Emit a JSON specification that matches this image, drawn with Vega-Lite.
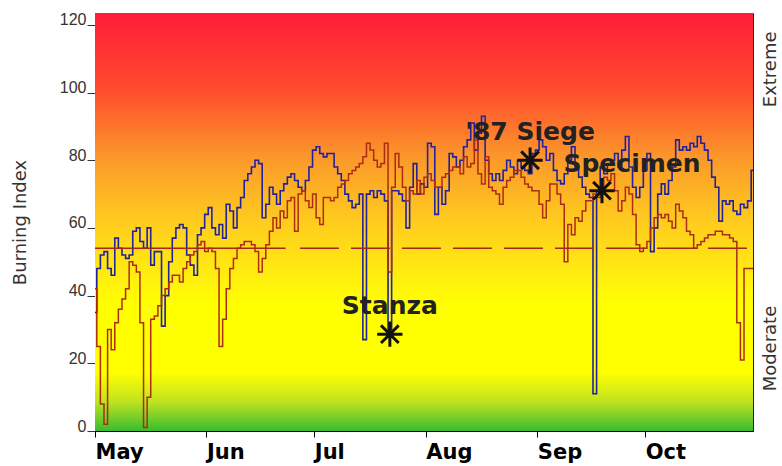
{
  "$schema": "https://vega.github.io/schema/vega-lite/v6.json",
  "width": 658,
  "height": 418,
  "autosize": "none",
  "padding": {"left": 95, "top": 13, "right": 29, "bottom": 35},
  "background": "white",
  "config": {
    "view": {"stroke": "#222", "strokeWidth": 1},
    "axis": {"grid": false}
  },
  "layer": [
    {
      "data": {"values": [{"band": "background"}]},
      "mark": {
        "type": "rect",
        "color": {
          "gradient": "linear",
          "x1": 0, "y1": 0, "x2": 0, "y2": 1,
          "stops": [
            {"offset": 0, "color": "#ff1c38"},
            {"offset": 0.18, "color": "#ff4a2e"},
            {"offset": 0.35, "color": "#fb9a2a"},
            {"offset": 0.5, "color": "#ffcc1e"},
            {"offset": 0.63, "color": "#ffee10"},
            {"offset": 0.7, "color": "#ffff00"},
            {"offset": 0.86, "color": "#ffff00"},
            {"offset": 0.93, "color": "#bfe320"},
            {"offset": 1, "color": "#38bc30"}
          ]
        }
      },
      "encoding": {}
    },
    {
      "data": {"values": [
        {"date":"2007-05-01","blue":35,"red":42},{"date":"2007-05-02","blue":48,"red":25},{"date":"2007-05-03","blue":52,"red":8},{"date":"2007-05-04","blue":53,"red":2},{"date":"2007-05-05","blue":48,"red":30},{"date":"2007-05-06","blue":46,"red":24},{"date":"2007-05-07","blue":57,"red":32},{"date":"2007-05-08","blue":54,"red":36},{"date":"2007-05-09","blue":52,"red":39},{"date":"2007-05-10","blue":51,"red":42},
        {"date":"2007-05-11","blue":52,"red":50},{"date":"2007-05-12","blue":59,"red":49},{"date":"2007-05-13","blue":60,"red":47},{"date":"2007-05-14","blue":56,"red":32},{"date":"2007-05-15","blue":54,"red":1},{"date":"2007-05-16","blue":60,"red":10},{"date":"2007-05-17","blue":49,"red":33},{"date":"2007-05-18","blue":53,"red":34},{"date":"2007-05-19","blue":53,"red":37},{"date":"2007-05-20","blue":31,"red":40},
        {"date":"2007-05-21","blue":40,"red":42},{"date":"2007-05-22","blue":50,"red":44},{"date":"2007-05-23","blue":57,"red":46},{"date":"2007-05-24","blue":60,"red":46},{"date":"2007-05-25","blue":61,"red":44},{"date":"2007-05-26","blue":60,"red":48},{"date":"2007-05-27","blue":52,"red":50},{"date":"2007-05-28","blue":49,"red":52},{"date":"2007-05-29","blue":46,"red":53},{"date":"2007-05-30","blue":58,"red":55},
        {"date":"2007-05-31","blue":60,"red":56},{"date":"2007-06-01","blue":64,"red":53},{"date":"2007-06-02","blue":66,"red":54},{"date":"2007-06-03","blue":60,"red":53},{"date":"2007-06-04","blue":58,"red":48},{"date":"2007-06-05","blue":61,"red":25},{"date":"2007-06-06","blue":57,"red":33},{"date":"2007-06-07","blue":67,"red":42},{"date":"2007-06-08","blue":65,"red":48},{"date":"2007-06-09","blue":60,"red":51},
        {"date":"2007-06-10","blue":66,"red":54},{"date":"2007-06-11","blue":69,"red":55},{"date":"2007-06-12","blue":74,"red":56},{"date":"2007-06-13","blue":76,"red":56},{"date":"2007-06-14","blue":78,"red":55},{"date":"2007-06-15","blue":80,"red":53},{"date":"2007-06-16","blue":79,"red":47},{"date":"2007-06-17","blue":63,"red":51},{"date":"2007-06-18","blue":67,"red":55},{"date":"2007-06-19","blue":72,"red":59},
        {"date":"2007-06-20","blue":70,"red":63},{"date":"2007-06-21","blue":67,"red":60},{"date":"2007-06-22","blue":71,"red":65},{"date":"2007-06-23","blue":73,"red":63},{"date":"2007-06-24","blue":75,"red":68},{"date":"2007-06-25","blue":76,"red":69},{"date":"2007-06-26","blue":74,"red":59},{"date":"2007-06-27","blue":72,"red":70},{"date":"2007-06-28","blue":71,"red":71},{"date":"2007-06-29","blue":74,"red":68},
        {"date":"2007-06-30","blue":78,"red":66},{"date":"2007-07-01","blue":83,"red":70},{"date":"2007-07-02","blue":84,"red":63},{"date":"2007-07-03","blue":82,"red":61},{"date":"2007-07-04","blue":81,"red":69},{"date":"2007-07-05","blue":82,"red":69},{"date":"2007-07-06","blue":82,"red":68},{"date":"2007-07-07","blue":78,"red":69},{"date":"2007-07-08","blue":76,"red":72},{"date":"2007-07-09","blue":74,"red":73},
        {"date":"2007-07-10","blue":70,"red":74},{"date":"2007-07-11","blue":68,"red":76},{"date":"2007-07-12","blue":66,"red":77},{"date":"2007-07-13","blue":67,"red":78},{"date":"2007-07-14","blue":70,"red":79},{"date":"2007-07-15","blue":27,"red":81},{"date":"2007-07-16","blue":70,"red":85},{"date":"2007-07-17","blue":71,"red":83},{"date":"2007-07-18","blue":69,"red":80},{"date":"2007-07-19","blue":71,"red":78},
        {"date":"2007-07-20","blue":70,"red":79},{"date":"2007-07-21","blue":68,"red":85},{"date":"2007-07-22","blue":30,"red":47},{"date":"2007-07-23","blue":71,"red":72},{"date":"2007-07-24","blue":71,"red":82},{"date":"2007-07-25","blue":70,"red":78},{"date":"2007-07-26","blue":68,"red":72},{"date":"2007-07-27","blue":60,"red":68},{"date":"2007-07-28","blue":72,"red":71},{"date":"2007-07-29","blue":79,"red":70},
        {"date":"2007-07-30","blue":70,"red":74},{"date":"2007-07-31","blue":73,"red":70},{"date":"2007-08-01","blue":72,"red":75},{"date":"2007-08-02","blue":85,"red":76},{"date":"2007-08-03","blue":84,"red":74},{"date":"2007-08-04","blue":64,"red":72},{"date":"2007-08-05","blue":72,"red":72},{"date":"2007-08-06","blue":67,"red":75},{"date":"2007-08-07","blue":71,"red":76},{"date":"2007-08-08","blue":82,"red":77},
        {"date":"2007-08-09","blue":81,"red":78},{"date":"2007-08-10","blue":78,"red":78},{"date":"2007-08-11","blue":80,"red":76},{"date":"2007-08-12","blue":84,"red":81},{"date":"2007-08-13","blue":86,"red":78},{"date":"2007-08-14","blue":91,"red":79},{"date":"2007-08-15","blue":83,"red":86},{"date":"2007-08-16","blue":88,"red":76},{"date":"2007-08-17","blue":93,"red":73},{"date":"2007-08-18","blue":80,"red":81},
        {"date":"2007-08-19","blue":76,"red":72},{"date":"2007-08-20","blue":74,"red":71},{"date":"2007-08-21","blue":76,"red":70},{"date":"2007-08-22","blue":74,"red":67},{"date":"2007-08-23","blue":77,"red":72},{"date":"2007-08-24","blue":80,"red":74},{"date":"2007-08-25","blue":78,"red":75},{"date":"2007-08-26","blue":76,"red":77},{"date":"2007-08-27","blue":80,"red":77},{"date":"2007-08-28","blue":78,"red":75},
        {"date":"2007-08-29","blue":77,"red":73},{"date":"2007-08-30","blue":76,"red":72},{"date":"2007-08-31","blue":82,"red":71},{"date":"2007-09-01","blue":83,"red":71},{"date":"2007-09-02","blue":86,"red":67},{"date":"2007-09-03","blue":84,"red":63},{"date":"2007-09-04","blue":80,"red":68},{"date":"2007-09-05","blue":82,"red":73},{"date":"2007-09-06","blue":77,"red":73},{"date":"2007-09-07","blue":74,"red":70},
        {"date":"2007-09-08","blue":73,"red":67},{"date":"2007-09-09","blue":76,"red":50},{"date":"2007-09-10","blue":80,"red":61},{"date":"2007-09-11","blue":84,"red":58},{"date":"2007-09-12","blue":78,"red":63},{"date":"2007-09-13","blue":75,"red":62},{"date":"2007-09-14","blue":72,"red":65},{"date":"2007-09-15","blue":70,"red":68},{"date":"2007-09-16","blue":69,"red":68},{"date":"2007-09-17","blue":11,"red":70},
        {"date":"2007-09-18","blue":71,"red":69},{"date":"2007-09-19","blue":78,"red":70},{"date":"2007-09-20","blue":76,"red":75},{"date":"2007-09-21","blue":79,"red":74},{"date":"2007-09-22","blue":80,"red":76},{"date":"2007-09-23","blue":82,"red":71},{"date":"2007-09-24","blue":78,"red":65},{"date":"2007-09-25","blue":83,"red":68},{"date":"2007-09-26","blue":87,"red":72},{"date":"2007-09-27","blue":78,"red":70},
        {"date":"2007-09-28","blue":72,"red":64},{"date":"2007-09-29","blue":69,"red":55},{"date":"2007-09-30","blue":72,"red":53},{"date":"2007-10-01","blue":77,"red":54},{"date":"2007-10-02","blue":82,"red":56},{"date":"2007-10-03","blue":53,"red":60},{"date":"2007-10-04","blue":60,"red":63},{"date":"2007-10-05","blue":70,"red":64},{"date":"2007-10-06","blue":73,"red":63},{"date":"2007-10-07","blue":70,"red":64},
        {"date":"2007-10-08","blue":74,"red":62},{"date":"2007-10-09","blue":78,"red":60},{"date":"2007-10-10","blue":86,"red":67},{"date":"2007-10-11","blue":83,"red":65},{"date":"2007-10-12","blue":84,"red":63},{"date":"2007-10-13","blue":83,"red":59},{"date":"2007-10-14","blue":85,"red":58},{"date":"2007-10-15","blue":84,"red":54},{"date":"2007-10-16","blue":87,"red":55},{"date":"2007-10-17","blue":85,"red":56},
        {"date":"2007-10-18","blue":83,"red":57},{"date":"2007-10-19","blue":80,"red":58},{"date":"2007-10-20","blue":75,"red":58},{"date":"2007-10-21","blue":72,"red":59},{"date":"2007-10-22","blue":62,"red":59},{"date":"2007-10-23","blue":68,"red":58},{"date":"2007-10-24","blue":67,"red":58},{"date":"2007-10-25","blue":68,"red":57},{"date":"2007-10-26","blue":65,"red":56},{"date":"2007-10-27","blue":64,"red":32},
        {"date":"2007-10-28","blue":67,"red":21},{"date":"2007-10-29","blue":66,"red":48},{"date":"2007-10-30","blue":68,"red":48},{"date":"2007-10-31","blue":77,"red":48}
      ]},
      "encoding": {
        "x": {
          "field": "date",
          "type": "temporal",
          "scale": {
            "type": "utc",
            "domain": [
              {"year": 2007, "month": 5, "date": 1, "utc": true},
              {"year": 2007, "month": 10, "date": 31, "utc": true}
            ]
          },
          "axis": {
            "title": null,
            "values": [
              {"year": 2007, "month": 5, "date": 1, "utc": true},
              {"year": 2007, "month": 6, "date": 1, "utc": true},
              {"year": 2007, "month": 7, "date": 1, "utc": true},
              {"year": 2007, "month": 8, "date": 1, "utc": true},
              {"year": 2007, "month": 9, "date": 1, "utc": true},
              {"year": 2007, "month": 10, "date": 1, "utc": true}
            ],
            "format": "%b",
            "labelFont": "DejaVu Sans",
            "labelFontSize": 21,
            "labelFontWeight": "bold",
            "labelColor": "#000",
            "labelAlign": "left",
            "labelBaseline": "top",
            "labelPadding": 4,
            "labelFlush": false,
            "labelOverlap": false,
            "labelBound": false,
            "tickSize": 6,
            "tickColor": "#000",
            "domainColor": "#000"
          }
        }
      },
      "resolve": {"axis": {"y": "independent"}},
      "layer": [
        {
          "mark": {"type": "line", "interpolate": "step", "color": "#22229c", "strokeWidth": 1.6},
          "encoding": {
            "y": {
              "field": "blue",
              "type": "quantitative",
              "scale": {"domain": [0, 123.5], "nice": false, "zero": true},
              "axis": {
                "orient": "left",
                "values": [0, 20, 40, 60, 80, 100, 120],
                "labelFont": "Liberation Sans",
                "labelFontSize": 16,
                "labelColor": "#333",
                "labelBaseline": "alphabetic",
                "labelPadding": 1,
                "tickSize": 8,
                "tickColor": "#333",
                "domainColor": "#000",
                "title": "Burning Index",
                "titleFont": "DejaVu Sans",
                "titleFontSize": 18,
                "titleFontWeight": "normal",
                "titleColor": "#333",
                "titlePadding": 30
              }
            }
          }
        },
        {
          "mark": {"type": "line", "interpolate": "step", "color": "#ad2c14", "strokeWidth": 1.5},
          "encoding": {
            "y": {
              "field": "red",
              "type": "quantitative",
              "scale": {"domain": [0, 123.5], "nice": false, "zero": true},
              "axis": null
            }
          }
        },
        {
          "data": {"values": [
            {"date": "2007-05-01", "end": "2007-06-23", "level": 54, "style": "solid"},
            {"date": "2007-06-27", "end": "2007-10-31", "level": 54, "style": "dashed"}
          ]},
          "mark": {"type": "rule", "color": "#a8281a", "strokeWidth": 1.5},
          "encoding": {
            "x2": {"field": "end"},
            "y": {
              "field": "level",
              "type": "quantitative",
              "scale": {"domain": [0, 123.5], "nice": false, "zero": true},
              "axis": {
                "orient": "right",
                "values": [24.5, 107],
                "labelExpr": "datum.value > 60 ? 'Extreme' : 'Moderate'",
                "labelAngle": 270,
                "labelAlign": "center",
                "labelBaseline": "top",
                "labelPadding": 8,
                "labelFont": "DejaVu Sans",
                "labelFontSize": 18,
                "labelColor": "#333",
                "ticks": false,
                "tickSize": 0,
                "domain": false,
                "title": null
              }
            },
            "strokeDash": {
              "field": "style",
              "type": "nominal",
              "scale": {"domain": ["solid", "dashed"], "range": [[1, 0], [39, 12]]},
              "legend": null
            }
          }
        },
        {
          "data": {"values": [
            {"date": "2007-07-22", "value": 28.6, "name": "Stanza"},
            {"date": "2007-08-30", "value": 80, "name": "'87 Siege"},
            {"date": "2007-09-19", "value": 71, "name": "Specimen"}
          ]},
          "layer": [
            {
              "mark": {
                "type": "point",
                "shape": "M-1,0L1,0M0,-1L0,1M-0.7,-0.7L0.7,0.7M-0.7,0.7L0.7,-0.7",
                "filled": false,
                "stroke": "#111",
                "strokeWidth": 3,
                "size": 640,
                "opacity": 1
              },
              "encoding": {
                "y": {
                  "field": "value",
                  "type": "quantitative",
                  "scale": {"domain": [0, 123.5], "nice": false, "zero": true},
                  "axis": null
                }
              }
            },
            {
              "transform": [{"filter": "datum.name !== 'Specimen'"}],
              "mark": {"type": "text", "font": "DejaVu Sans", "fontWeight": "bold", "fontSize": 25, "color": "#222", "align": "center", "baseline": "middle", "dy": -28},
              "encoding": {
                "y": {
                  "field": "value",
                  "type": "quantitative",
                  "scale": {"domain": [0, 123.5], "nice": false, "zero": true},
                  "axis": null
                },
                "text": {"field": "name"}
              }
            },
            {
              "transform": [{"filter": "datum.name === 'Specimen'"}],
              "mark": {"type": "text", "font": "DejaVu Sans", "fontWeight": "bold", "fontSize": 25, "color": "#222", "align": "center", "baseline": "middle", "dx": 30, "dy": -27},
              "encoding": {
                "y": {
                  "field": "value",
                  "type": "quantitative",
                  "scale": {"domain": [0, 123.5], "nice": false, "zero": true},
                  "axis": null
                },
                "text": {"field": "name"}
              }
            }
          ]
        }
      ]
    }
  ]
}
